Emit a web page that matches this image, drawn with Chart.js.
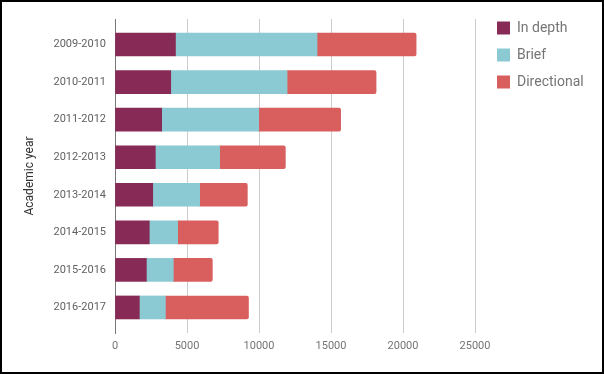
<!DOCTYPE html>
<html>
<head>
<meta charset="utf-8">
<script src="https://cdn.jsdelivr.net/npm/chart.js@4"></script>
<style>
  html, body { margin: 0; padding: 0; background: #fff; }
  #wrap { position: relative; width: 604px; height: 374px; }
  #frame { position: absolute; left: 0; top: 0; width: 604px; height: 374px; box-sizing: border-box;
           border: 2px solid #000; pointer-events: none; }
</style>
</head>
<body>
<div id="wrap">
  <canvas id="chart" width="604" height="374"></canvas>
  <div id="frame"></div>
</div>
<script>
// academic years, top to bottom
const years = ["2009-2010", "2010-2011", "2011-2012", "2012-2013", "2013-2014", "2014-2015", "2015-2016", "2016-2017"];

// series values
const inDepth     = [4200, 3870, 3240, 2800, 2620, 2380, 2180, 1690];
const brief       = [9830, 8080, 6740, 4470, 3260, 1970, 1870, 1810];
const directional = [6880, 6180, 5690, 4560, 3310, 2820, 2710, 5770];

const seriesNames = ["In depth", "Brief", "Directional"];
const seriesColors = ["#872b56", "#8bcad3", "#d95f5f"];

// x axis tick labels
const xTicks = [0, 5000, 10000, 15000, 20000, 25000];

// bars use a linear index axis so the row spacing can be set freely
const toPoints = (arr) => arr.map((v, i) => ({ x: v, y: i }));

function makeDataset(idx, values, radius) {
  return {
    label: seriesNames[idx],
    data: toPoints(values),
    backgroundColor: seriesColors[idx],
    borderWidth: 0,
    borderRadius: radius,
    barThickness: 23,
    grouped: false
  };
}

const ctx = document.getElementById("chart").getContext("2d");
const chart = new Chart(ctx, {
  type: "bar",
  data: {
    datasets: [
      makeDataset(0, inDepth, 0),
      makeDataset(1, brief, 0),
      makeDataset(2, directional, 2)
    ]
  },
  options: {
    indexAxis: "y",
    responsive: false,
    animation: false,
    layout: { padding: { top: 8, right: 20, bottom: 11, left: 0 } },
    scales: {
      x: {
        type: "linear",
        stacked: true,
        bounds: "data",
        min: 0,
        max: 25625,
        grid: { color: "#cccccc", drawTicks: false },
        border: { display: false },
        afterBuildTicks: (scale) => { scale.ticks = xTicks.map(v => ({ value: v })); },
        ticks: {
          padding: 7,
          color: "#757575",
          font: { family: "Roboto", size: 11 },
          callback: (v) => String(v)
        },
        afterFit: (scale) => { scale.height = 30; }
      },
      y: {
        type: "linear",
        reverse: true,
        offset: false,
        bounds: "data",
        min: -0.68,
        max: 7.68,
        grid: { display: false, drawTicks: false, offset: false },
        border: { display: true, color: "#777777", width: 1 },
        afterBuildTicks: (scale) => { scale.ticks = years.map((y, i) => ({ value: i })); },
        ticks: {
          padding: 9,
          color: "#616161",
          font: { family: "Roboto", size: 11 },
          callback: (v) => years[Math.round(v)]
        },
        title: {
          display: true,
          text: "Academic year",
          color: "#333333",
          padding: { top: 23, bottom: 0 },
          font: { family: "Roboto", size: 12 }
        },
        afterFit: (scale) => { scale.width = 115; }
      }
    },
    plugins: {
      // empty title only reserves space above the plot
      title: {
        display: true,
        text: "",
        padding: 0,
        font: { size: 11, lineHeight: 1 }
      },
      legend: {
        position: "right",
        align: "start",
        maxWidth: 100,
        labels: {
          boxWidth: 13,
          boxHeight: 13,
          padding: 13,
          color: "#757575",
          font: { family: "Roboto", size: 14 }
        }
      },
      tooltip: { enabled: false }
    }
  }
});
</script>
</body>
</html>
